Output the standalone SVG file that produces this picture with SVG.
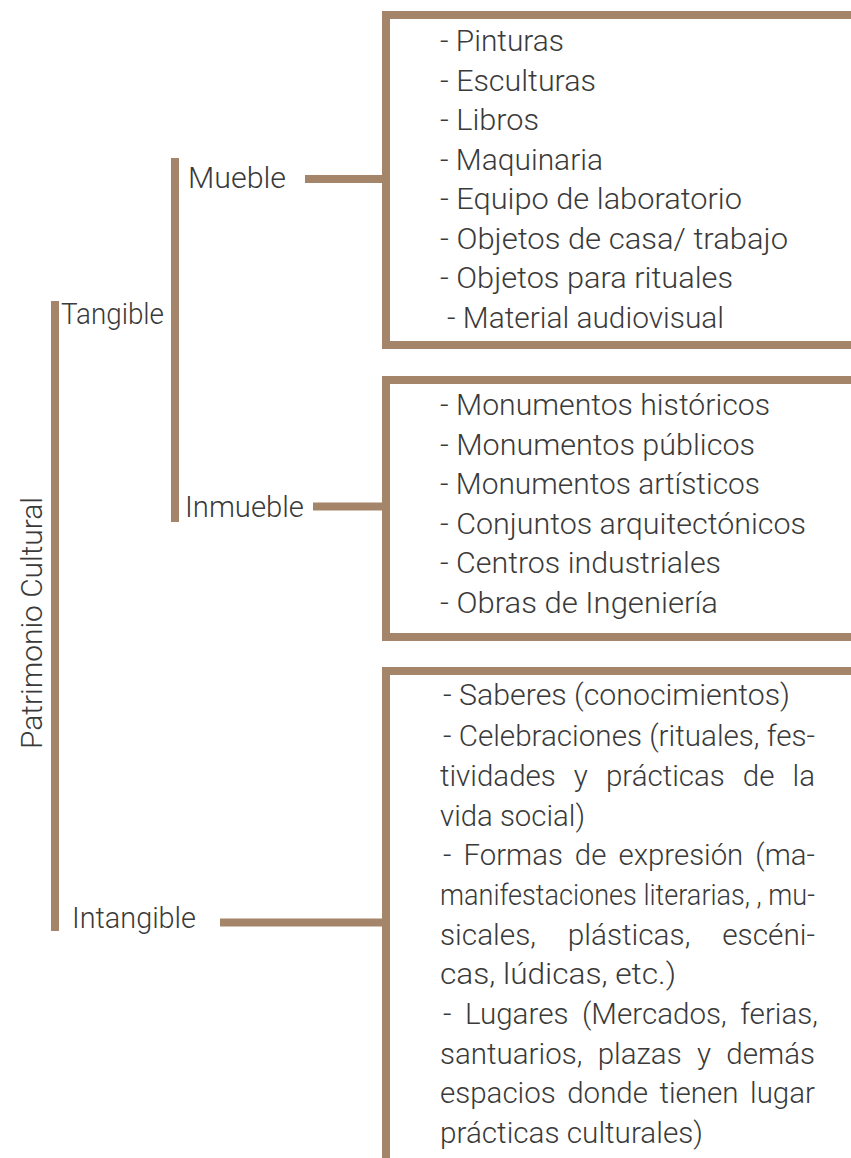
<svg xmlns="http://www.w3.org/2000/svg" width="851" height="1158" viewBox="0 0 851 1158">
<style>
.bar{fill:#a4856a}
.t{font-family:Roboto,"Liberation Sans",Arial,sans-serif;font-weight:300;font-size:29px;fill:#3a3a3a}
</style>
<rect width="851" height="1158" fill="#ffffff"/>
<g id="connectors">
<rect class="bar" x="51" y="301" width="8" height="630"/>
<rect class="bar" x="171" y="158" width="8" height="364"/>
<rect class="bar" x="305" y="175" width="80" height="8"/>
<rect class="bar" x="313" y="502.5" width="72" height="8"/>
<rect class="bar" x="220" y="918.5" width="165" height="8"/>
</g>
<g id="root">
<text class="t" x="42" y="623" text-anchor="middle" textLength="252" lengthAdjust="spacingAndGlyphs" transform="rotate(-90 42 623)">Patrimonio Cultural</text>
</g>
<g id="tangible"><text class="t" x="61" y="324" textLength="103" lengthAdjust="spacingAndGlyphs">Tangible</text></g>
<g id="intangible"><text class="t" x="72" y="928" textLength="124" lengthAdjust="spacingAndGlyphs">Intangible</text></g>
<g id="mueble"><text class="t" x="188" y="188" textLength="98" lengthAdjust="spacingAndGlyphs">Mueble</text></g>
<g id="inmueble"><text class="t" x="185" y="517" textLength="119" lengthAdjust="spacingAndGlyphs">Inmueble</text></g>
<g id="box-mueble">
<rect class="bar" x="382" y="11" width="469" height="8"/>
<rect class="bar" x="382" y="11" width="8" height="338"/>
<rect class="bar" x="382" y="341" width="469" height="8"/>
<text class="t" x="440" y="51" textLength="124" lengthAdjust="spacingAndGlyphs">- Pinturas</text>
<text class="t" x="440" y="90.5" textLength="156" lengthAdjust="spacingAndGlyphs">- Esculturas</text>
<text class="t" x="440" y="130" textLength="99" lengthAdjust="spacingAndGlyphs">- Libros</text>
<text class="t" x="440" y="169.5" textLength="163" lengthAdjust="spacingAndGlyphs">- Maquinaria</text>
<text class="t" x="440" y="209" textLength="302" lengthAdjust="spacingAndGlyphs">- Equipo de laboratorio</text>
<text class="t" x="440" y="248.5" textLength="348" lengthAdjust="spacingAndGlyphs">- Objetos de casa/ trabajo</text>
<text class="t" x="440" y="288" textLength="293" lengthAdjust="spacingAndGlyphs">- Objetos para rituales</text>
<text class="t" x="447" y="328" textLength="277" lengthAdjust="spacingAndGlyphs">- Material audiovisual</text>
</g>
<g id="box-inmueble">
<rect class="bar" x="382" y="376" width="469" height="8"/>
<rect class="bar" x="382" y="376" width="8" height="265"/>
<rect class="bar" x="382" y="633" width="469" height="8"/>
<text class="t" x="440" y="415" textLength="330" lengthAdjust="spacingAndGlyphs">- Monumentos históricos</text>
<text class="t" x="440" y="454.5" textLength="315" lengthAdjust="spacingAndGlyphs">- Monumentos públicos</text>
<text class="t" x="440" y="494" textLength="320" lengthAdjust="spacingAndGlyphs">- Monumentos artísticos</text>
<text class="t" x="440" y="533.5" textLength="366" lengthAdjust="spacingAndGlyphs">- Conjuntos arquitectónicos</text>
<text class="t" x="440" y="573" textLength="281" lengthAdjust="spacingAndGlyphs">- Centros industriales</text>
<text class="t" x="440" y="612.5" textLength="278" lengthAdjust="spacingAndGlyphs">- Obras de Ingeniería</text>
</g>
<g id="box-intangible">
<rect class="bar" x="382" y="667" width="469" height="8"/>
<rect class="bar" x="382" y="667" width="8" height="491"/>
<text class="t" x="443" y="705" textLength="347" lengthAdjust="spacingAndGlyphs">- Saberes (conocimientos)</text>
<text class="t" x="443" y="746" textLength="372" lengthAdjust="spacingAndGlyphs">- Celebraciones (rituales, fes-</text>
<text class="t" x="440" y="786" word-spacing="10.7" textLength="375" lengthAdjust="spacingAndGlyphs">tividades y prácticas de la</text>
<text class="t" x="440" y="825.5" textLength="145" lengthAdjust="spacingAndGlyphs">vida social)</text>
<text class="t" x="443" y="865" word-spacing="4.8" textLength="372" lengthAdjust="spacingAndGlyphs">- Formas de expresión (ma-</text>
<text class="t" x="440" y="905" textLength="375" lengthAdjust="spacingAndGlyphs">manifestaciones literarias, , mu-</text>
<text class="t" x="440" y="944.5" word-spacing="23.9" textLength="375" lengthAdjust="spacingAndGlyphs">sicales, plásticas, escéni-</text>
<text class="t" x="440" y="984" textLength="236" lengthAdjust="spacingAndGlyphs">cas, lúdicas, etc.)</text>
<text class="t" x="443" y="1024" word-spacing="6.2" textLength="375" lengthAdjust="spacingAndGlyphs">- Lugares (Mercados, ferias,</text>
<text class="t" x="440" y="1063.5" word-spacing="8" textLength="375" lengthAdjust="spacingAndGlyphs">santuarios, plazas y demás</text>
<text class="t" x="440" y="1103" word-spacing="4.2" textLength="375" lengthAdjust="spacingAndGlyphs">espacios donde tienen lugar</text>
<text class="t" x="440" y="1142.5" textLength="263" lengthAdjust="spacingAndGlyphs">prácticas culturales)</text>
</g>
</svg>
